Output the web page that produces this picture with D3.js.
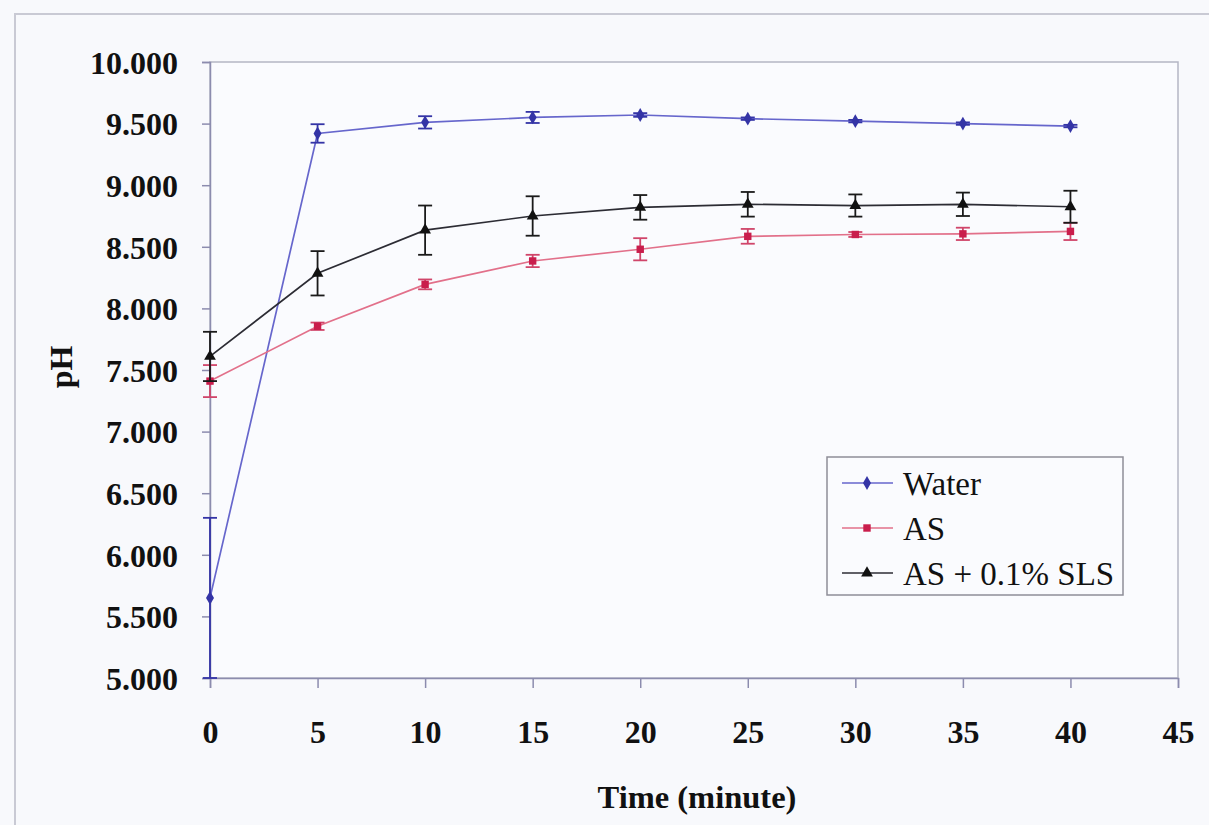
<!DOCTYPE html>
<html>
<head>
<meta charset="utf-8">
<script src="https://cdn.jsdelivr.net/npm/d3@7"></script>
<style>
  body { margin: 0; background: #f8f9fc; }
  svg { display: block; }
  text { font-family: "Liberation Serif", "DejaVu Serif", serif; }
</style>
</head>
<body>
<div id="chart"></div>
<script>
// time points (minutes)
var times = [0, 5, 10, 15, 20, 25, 30, 35, 40];

// pH means and error bars
var waterPH = [5.65, 9.42, 9.51, 9.55, 9.57, 9.54, 9.52, 9.50, 9.48];
var waterErr = [0.65, 0.075, 0.05, 0.045, 0.015, 0.01, 0.01, 0.01, 0.01];
var asPH = [7.41, 7.855, 8.195, 8.385, 8.48, 8.585, 8.60, 8.605, 8.625];
var asErr = [0.13, 0.03, 0.04, 0.05, 0.09, 0.06, 0.02, 0.05, 0.07];
var slsPH = [7.61, 8.285, 8.635, 8.75, 8.82, 8.845, 8.835, 8.845, 8.825];
var slsErr = [0.2, 0.18, 0.2, 0.16, 0.1, 0.1, 0.09, 0.095, 0.13];

var seriesNames = ["Water", "AS", "AS + 0.1% SLS"];
var xTicks = [0, 5, 10, 15, 20, 25, 30, 35, 40, 45];
var yTicks = [5, 5.5, 6, 6.5, 7, 7.5, 8, 8.5, 9, 9.5, 10];

var svgWidth = 1209;
var svgHeight = 825;
var margin = { top: 62, right: 31, bottom: 147, left: 210 };
var width = svgWidth - margin.left - margin.right;
var height = svgHeight - margin.top - margin.bottom;

var font = "Liberation Serif";
var axisColor = "#8c8cae";

var series = [
    { name: seriesNames[0], y: waterPH, err: waterErr, line: "#6666cc", mark: "#3434a6", shape: d3.symbolDiamond, errColor: "#3434a6" },
    { name: seriesNames[1], y: asPH, err: asErr, line: "#e2708a", mark: "#c91d4c", shape: d3.symbolSquare, errColor: "#d0456a" },
    { name: seriesNames[2], y: slsPH, err: slsErr, line: "#2c2c34", mark: "#111111", shape: d3.symbolTriangle, errColor: "#1a1a1a" }
];

var svg = d3.select("#chart")
    .append("svg")
    .attr("width", svgWidth)
    .attr("height", svgHeight);

svg.append("rect")
    .attr("width", svgWidth).attr("height", svgHeight)
    .attr("fill", "#f8f9fc");

// outer chart frame
svg.append("rect")
    .attr("x", 15).attr("y", 14)
    .attr("width", svgWidth).attr("height", svgHeight)
    .attr("fill", "none")
    .attr("stroke", "#c9cad4")
    .attr("stroke-width", 2);

var chartGroup = svg.append("g")
    .attr("transform", `translate(${margin.left}, ${margin.top})`);

var xScale = d3.scaleLinear().domain([0, 45]).range([0, width]);
var yScale = d3.scaleLinear().domain([5, 10]).range([height, 0]);

// plot area border
chartGroup.append("rect")
    .attr("width", width).attr("height", height)
    .attr("fill", "#fafbfe")
    .attr("stroke", "#b4b6c4")
    .attr("stroke-width", 1.5);

// axes
var bottomAxis = d3.axisBottom(xScale)
    .tickValues(xTicks)
    .tickSize(10)
    .tickPadding(32)
    .tickFormat(d3.format("d"));

var leftAxis = d3.axisLeft(yScale)
    .tickValues(yTicks)
    .tickSize(8)
    .tickPadding(24)
    .tickFormat(d3.format(".3f"));

var xAxisG = chartGroup.append("g")
    .attr("transform", `translate(0, ${height})`)
    .call(bottomAxis);

var yAxisG = chartGroup.append("g")
    .call(leftAxis);

[xAxisG, yAxisG].forEach(function (g) {
    g.attr("font-family", null);
    g.select(".domain").attr("stroke", axisColor).attr("stroke-width", 1.5);
    g.selectAll(".tick line").attr("stroke", axisColor).attr("stroke-width", 1.5);
    g.selectAll(".tick text")
        .attr("fill", "#111")
        .style("font-family", font)
        .style("font-weight", "bold")
        .style("font-size", "32px");
});
yAxisG.selectAll(".tick text").attr("dy", "0.35em");

// lines, error bars and markers
var line = d3.line()
    .x(function (d) { return xScale(d.t); })
    .y(function (d) { return yScale(d.v); });

series.forEach(function (s) {
    var pts = times.map(function (t, i) { return { t: t, v: s.y[i], e: s.err[i] }; });

    chartGroup.append("path")
        .datum(pts)
        .attr("d", line)
        .attr("fill", "none")
        .attr("stroke", s.line)
        .attr("stroke-width", 1.7);

    var eb = chartGroup.append("g")
        .attr("stroke", s.errColor)
        .attr("stroke-width", 1.8);

    eb.selectAll("line.v")
        .data(pts)
        .enter().append("line")
        .attr("class", "v")
        .attr("x1", d => xScale(d.t)).attr("x2", d => xScale(d.t))
        .attr("y1", d => yScale(d.v + d.e)).attr("y2", d => yScale(d.v - d.e));

    eb.selectAll("line.top")
        .data(pts)
        .enter().append("line")
        .attr("class", "top")
        .attr("x1", d => xScale(d.t) - 7).attr("x2", d => xScale(d.t) + 7)
        .attr("y1", d => yScale(d.v + d.e)).attr("y2", d => yScale(d.v + d.e));

    eb.selectAll("line.bot")
        .data(pts)
        .enter().append("line")
        .attr("class", "bot")
        .attr("x1", d => xScale(d.t) - 7).attr("x2", d => xScale(d.t) + 7)
        .attr("y1", d => yScale(d.v - d.e)).attr("y2", d => yScale(d.v - d.e));

    chartGroup.selectAll(null)
        .data(pts)
        .enter().append("path")
        .attr("d", d3.symbol().type(s.shape).size(s.shape === d3.symbolTriangle ? 60 : 55))
        .attr("transform", d => `translate(${xScale(d.t)}, ${yScale(d.v)})`)
        .attr("fill", s.mark);
});

// axis titles
svg.append("text")
    .attr("transform", "translate(61, 367) rotate(-90)")
    .attr("text-anchor", "middle")
    .attr("dy", "0.35em")
    .style("font-family", font)
    .style("font-weight", "bold")
    .style("font-size", "32px")
    .attr("fill", "#111")
    .text("pH");

svg.append("text")
    .attr("x", 697)
    .attr("y", 797)
    .attr("text-anchor", "middle")
    .attr("dy", "0.35em")
    .style("font-family", font)
    .style("font-weight", "bold")
    .style("font-size", "32.5px")
    .attr("fill", "#111")
    .text("Time (minute)");

// legend
var legend = svg.append("g").attr("transform", "translate(827, 457)");
legend.append("rect")
    .attr("width", 296).attr("height", 138)
    .attr("fill", "#fafbfe")
    .attr("stroke", "#8e8e98")
    .attr("stroke-width", 1.5);

var legendRows = legend.selectAll("g.row")
    .data(series)
    .enter().append("g")
    .attr("class", "row")
    .attr("transform", (d, i) => `translate(0, ${26 + i * 45})`);

legendRows.append("line")
    .attr("x1", 15).attr("x2", 66)
    .attr("stroke", d => d.line)
    .attr("stroke-width", 1.6);

legendRows.append("path")
    .attr("d", d => d3.symbol().type(d.shape).size(d.shape === d3.symbolTriangle ? 60 : 55)())
    .attr("transform", "translate(40, 0)")
    .attr("fill", d => d.mark);

legendRows.append("text")
    .attr("x", 76)
    .attr("dy", "0.35em")
    .style("font-family", font)
    .style("font-size", "33px")
    .attr("fill", "#111")
    .text(d => d.name);
</script>
</body>
</html>
